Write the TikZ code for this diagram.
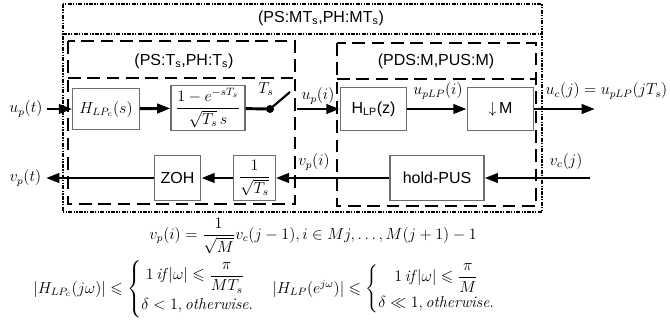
\documentclass[tikz,border=0pt]{standalone}
\usepackage{amsmath,amssymb}
\usepackage{fontspec}
\setsansfont{Liberation Sans}
\usepackage{tikz}
\usetikzlibrary{positioning, arrows.meta, calc}
\definecolor{boxgray}{HTML}{6E6E6E}

\begin{document}
\begin{tikzpicture}[x=0.75pt, y=-0.75pt, font=\large,
    blk/.style={draw=boxgray, line width=0.8pt, fill=white, font=\large\sffamily, inner sep=2pt},
    sig/.style={line width=2.2pt, -{Triangle[length=10pt,width=7pt]}},
    wire/.style={line width=2.2pt},
    grp/.style={line width=1.5pt, dash pattern=on 9.5pt off 5pt},
    outer/.style={line width=1.1pt, dash pattern=on 3pt off 1pt on 1pt off 1pt on 1pt off 1pt}]
  \useasboundingbox (0,0) rectangle (670,333);

  % sampling groups
  \draw[outer] (63,4) rectangle (542,212);
  \draw[outer] (63,34) -- (542,34);
  \node[font=\large\sffamily] (ttl) at (321,18) {(PS:MT\textsubscript{s},PH:MT\textsubscript{s})};
  \draw[grp] (68,41) rectangle (295,204);
  \draw[grp] (68,78) -- (295,78);
  \node[font=\large\sffamily] (ttlL) at (184,61) {(PS:T\textsubscript{s},PH:T\textsubscript{s})};
  \draw[grp] (337,43) rectangle (536,206);
  \draw[grp] (337,79) -- (536,79);
  \node[font=\large\sffamily] (ttlR) at (436,61) {(PDS:M,PUS:M)};

  % forward path
  \node (upt) at (26,109) {$u_p(t)$};
  \node[blk, minimum width=50pt, minimum height=31pt] (hlpc) at (106,109) {$H_{LP_c}(s)$};
  \node[blk, minimum width=55.5pt, minimum height=34pt] (zohs) at (208,108) {$\dfrac{1-e^{-sT_s}}{\sqrt{T_s}\,s}$};
  \coordinate (sw) at (270,109);
  \coordinate (swtip) at (290,92);
  \coordinate (swout) at (297,109);
  \node (ts) at (266,89) {$T_s$};
  \node (upi) at (318,96) {$u_p(i)$};
  \node[blk, minimum width=50pt, minimum height=32pt] (hlpz) at (373.5,109) {H\textsubscript{LP}(z)};
  \node (uplp) at (438,91) {$u_{pLP}(i)$};
  \node[blk, minimum width=50pt, minimum height=32pt] (dwn) at (500.5,109) {$\downarrow$\,M};
  \coordinate (ucout) at (595,109);
  \node[anchor=west] (uclab) at (541,91) {$u_c(j)=u_{pLP}(jT_s)$};

  \draw[sig] (upt.east |- hlpc.west) -- (hlpc.west);
  \draw[sig] (hlpc) -- (zohs);
  \draw[wire] (zohs) -- (sw);
  \fill (sw) circle (3pt);
  \draw[line width=1.6pt] (sw) -- (swtip);
  \draw[sig] (swout) -- (hlpz);
  \draw[sig] (hlpz) -- (dwn);
  \draw[sig] (dwn) -- (ucout);

  % return path
  \coordinate (vcin) at (590,178);
  \node (vcj) at (566,161) {$v_c(j)$};
  \node[blk, minimum width=70.5pt, minimum height=34pt] (hold) at (437,178) {hold-PUS};
  \node (vpi) at (314,162) {$v_p(i)$};
  \node[blk, minimum width=31pt, minimum height=34pt] (isq) at (254.5,178) {$\dfrac{1}{\sqrt{T_s}}$};
  \node[blk, minimum width=35pt, minimum height=34pt] (zoh) at (177.5,178) {ZOH};
  \node[anchor=east] (vpt) at (46,178) {$v_p(t)$};

  \draw[sig] (vcin) -- (hold);
  \draw[sig] (hold) -- (isq);
  \draw[sig] (isq) -- (zoh);
  \draw[sig] (zoh.west) -- (vpt.east |- zoh.west);

  % relations
  \node (eq1) at (313,236) {$v_p(i)=\dfrac{1}{\sqrt{M}}v_c(j-1),i\in Mj,\ldots,M(j+1)-1$};
  \node (eq2) at (152,289) {$|H_{LP_c}(j\omega)|\leqslant\begin{cases}\;1\,\mathit{if}\,|\omega|\leqslant\dfrac{\pi}{MT_s}\\[2pt] \delta<1,\mathit{otherwise.}\end{cases}$};
  \node (eq3) at (392,289) {$|H_{LP}(e^{j\omega})|\leqslant\begin{cases}\quad 1\,\mathit{if}\,|\omega|\leqslant\dfrac{\pi}{M}\\[2pt] \delta\ll1,\mathit{otherwise.}\end{cases}$};
\end{tikzpicture}
\end{document}
